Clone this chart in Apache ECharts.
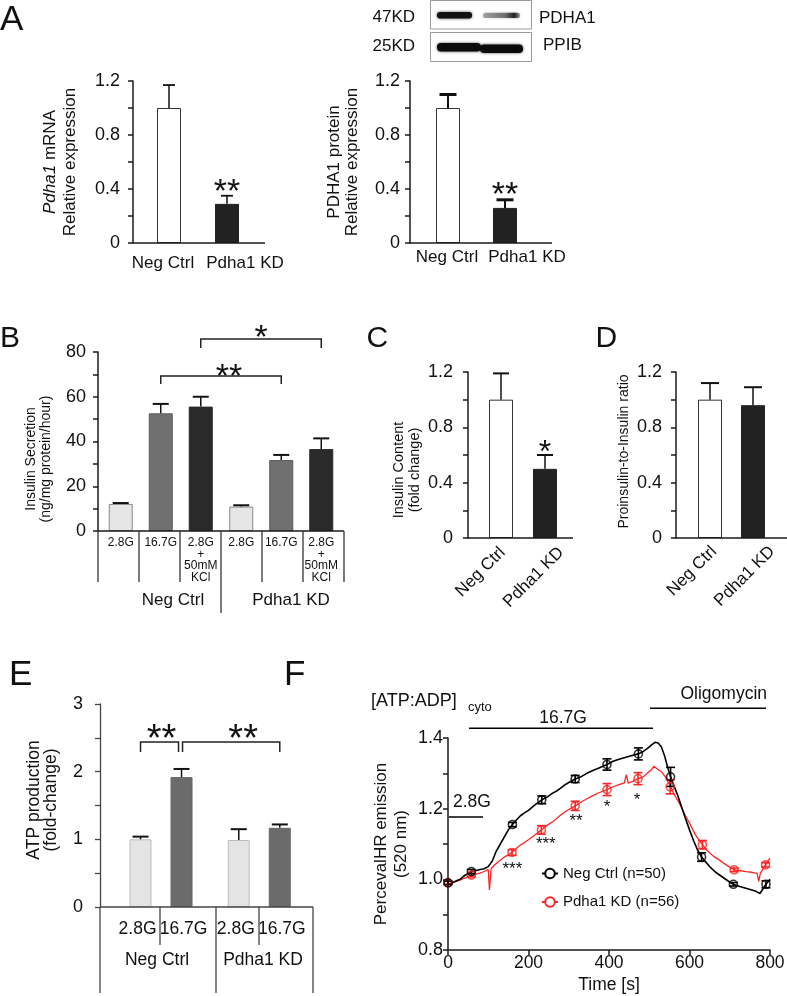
<!DOCTYPE html>
<html><head><meta charset="utf-8">
<script src="https://cdn.jsdelivr.net/npm/echarts@6/dist/echarts.min.js"></script>
<style>html,body{margin:0;padding:0;background:#fff}#c{width:787px;height:996px}</style>
</head><body><div id="c"></div><script>
// ---------------- data ----------------
const groups = ['Neg Ctrl', 'Pdha1 KD'];
// A
const mrnaMean = [1.00, 0.29];
const mrnaErr = [0.17, 0.06];
const mrnaSig = ['', '**'];
const proteinMean = [1.00, 0.26];
const proteinErr = [0.10, 0.06];
const proteinSig = ['', '**'];
// B
const secretionConditions = ['2.8G', '16.7G', '2.8G\n+\n50mM\nKCl'];
const secretion28 = [12.1, 10.9];
const secretion167 = [52.6, 31.7];
const secretionKCl = [55.6, 36.6];
const secretion28Err = [0.4, 0.6];
const secretion167Err = [4.2, 2.3];
const secretionKClErr = [4.4, 4.8];
// C
const contentMean = [1.00, 0.50];
const contentErr = [0.19, 0.10];
const contentSig = ['', '*'];
// D
const ratioMean = [1.00, 0.96];
const ratioErr = [0.12, 0.13];
// E
const atpConditions = ['2.8G', '16.7G'];
const atp28 = [1.00, 0.99];
const atp167 = [1.92, 1.17];
const atp28Err = [0.04, 0.16];
const atp167Err = [0.12, 0.05];
// F  [time s, emission]
const ctrlTrace = [[0,0.985],[10,0.99],[20,0.995],[30,1.0],[40,1.01],[50,1.016],[58,1.022],[70,1.025],[80,1.028],[90,1.03],[100,1.036],[110,1.052],[120,1.08],[130,1.1],[140,1.12],[150,1.14],[160,1.155],[170,1.168],[180,1.18],[190,1.188],[200,1.195],[210,1.205],[220,1.214],[233,1.225],[245,1.232],[260,1.244],[270,1.25],[280,1.258],[290,1.267],[300,1.274],[316,1.284],[330,1.29],[345,1.3],[360,1.308],[375,1.315],[395,1.325],[410,1.334],[425,1.34],[440,1.345],[455,1.35],[473,1.355],[485,1.362],[495,1.37],[505,1.38],[515,1.388],[522,1.386],[530,1.375],[538,1.35],[545,1.32],[553,1.29],[560,1.268],[570,1.24],[580,1.206],[590,1.172],[600,1.14],[610,1.11],[620,1.083],[630,1.063],[640,1.05],[650,1.036],[665,1.02],[680,1.008],[695,0.996],[709,0.986],[725,0.98],[740,0.975],[755,0.97],[765,0.966],[775,0.96],[782,0.972],[790,0.986],[800,1.0]];
const kdTrace = [[0,0.985],[10,0.99],[20,0.994],[30,0.998],[40,1.003],[50,1.007],[58,1.01],[70,1.015],[85,1.02],[95,1.025],[100,1.028],[103,0.97],[107,1.03],[115,1.04],[125,1.05],[140,1.063],[159,1.076],[170,1.088],[180,1.097],[190,1.104],[200,1.112],[215,1.125],[232,1.14],[245,1.152],[260,1.163],[270,1.172],[280,1.182],[295,1.194],[316,1.208],[330,1.218],[345,1.228],[360,1.237],[375,1.245],[395,1.254],[410,1.262],[425,1.268],[438,1.273],[443,1.296],[448,1.272],[460,1.278],[472,1.285],[485,1.29],[495,1.3],[505,1.31],[512,1.32],[520,1.312],[530,1.305],[540,1.29],[552,1.265],[562,1.24],[575,1.215],[590,1.18],[600,1.159],[615,1.125],[632,1.098],[645,1.08],[660,1.065],[680,1.05],[695,1.038],[711,1.027],[725,1.025],[740,1.022],[755,1.02],[768,1.017],[772,0.994],[776,1.017],[789,1.041],[800,1.06]];
// markers [time, mean, sem]
const ctrlMarkers = [[0,0.99,0.005],[58,1.022,0.006],[160,1.155,0.006],[233,1.225,0.011],[316,1.284,0.01],[395,1.325,0.016],[473,1.355,0.017],[553,1.29,0.027],[630,1.063,0.012],[709,0.986,0.005],[790,0.986,0.01]];
const kdMarkers = [[0,0.99,0.004],[58,1.012,0.005],[159,1.076,0.008],[232,1.14,0.012],[316,1.208,0.013],[395,1.254,0.017],[472,1.285,0.017],[552,1.262,0.02],[632,1.098,0.012],[711,1.027,0.005],[789,1.041,0.006]];
const sigF = [[160,1.041,'***'],[243,1.111,'***'],[318,1.176,'**'],[395,1.216,'*'],[470,1.235,'*']];
const seriesNamesF = ['Neg Ctrl (n=50)', 'Pdha1 KD (n=56)'];

// ---------------- styles / helpers ----------------
const FONT = "'Liberation Sans', Arial, Helvetica, sans-serif";
const INK = '#111';
const AX = {color:'#1a1a1a', width:1.5};

function grid(left, top, width, height){ return {left, top, width, height, outerBoundsMode:'none', containLabel:false}; }

function valueY(gi, min, max, interval, o){
  const ax = {
    type:'value', gridIndex:gi, min, max, interval, offset:o.offset||0,
    axisLine:{show:true, lineStyle:o.line||AX},
    axisTick:{show:true, length:5, inside:false, lineStyle:o.line||AX},
    minorTick:{show:true, splitNumber:2, length:5, lineStyle:o.line||AX},
    splitLine:{show:false}, minorSplitLine:{show:false},
    axisLabel:{fontSize:o.labelSize||18, margin:o.margin, color:INK, fontFamily:FONT},
    name:o.name, nameLocation:'middle', nameRotate:90, nameGap:o.nameGap, nameMoveOverlap:false,
    nameTextStyle:{fontSize:o.nameSize, lineHeight:o.nameLH, color:INK, fontFamily:FONT, padding:o.namePad||0}
  };
  if (o.formatter) ax.axisLabel.formatter = o.formatter;
  if (o.nameRich) ax.nameTextStyle.rich = o.nameRich;
  return ax;
}
function hiddenCatX(gi, data){ return {type:'category', gridIndex:gi, data, axisLine:{show:false}, axisTick:{show:false}, axisLabel:{show:false}, splitLine:{show:false}}; }
function labelCatX(gi, data, margin, rotate){ return {type:'category', gridIndex:gi, data, axisLine:{show:false}, axisTick:{show:false}, splitLine:{show:false},
  axisLabel:{show:true, interval:0, fontSize:17, color:INK, fontFamily:FONT, margin, rotate:rotate||0, hideOverlap:false}}; }
function hiddenY(gi){ return {type:'value', gridIndex:gi, show:false, min:0, max:1}; }

const whiteBar = {color:'#ffffff', borderColor:'#333', borderWidth:1};
const blackBar = {color:'#222222', borderColor:'#222', borderWidth:1};
function bar(gi, vals, styles){
  return {type:'bar', xAxisIndex:gi, yAxisIndex:gi, barWidth:24, silent:true, z:2,
    data: vals.map((v,i)=>({value:v, itemStyle:styles[i]}))};
}
function errorBars(gi, means, errs, o){
  return {type:'custom', xAxisIndex:gi, yAxisIndex:gi, z:6, silent:true, clip:false,
    data: means.map((m,i)=>[i, m, m+errs[i]]),
    renderItem(params, api){
      let dx = 0;
      if (o.layout){ const L = api.barLayout(o.layout.opt); dx = L[o.layout.idx].offsetCenter; }
      const p0 = api.coord([api.value(0), api.value(1)]);
      const p1 = api.coord([api.value(0), api.value(2)]);
      const x = p0[0] + dx;
      const ch = [
        {type:'line', shape:{x1:x, y1:p0[1], x2:x, y2:p1[1]}, style:{stroke:'#111', lineWidth:o.stemW||1.5}},
        {type:'line', shape:{x1:x-o.capW/2, y1:p1[1], x2:x+o.capW/2, y2:p1[1]}, style:{stroke:'#111', lineWidth:o.capLW||1.8}}
      ];
      const s = o.sig && o.sig[params.dataIndex];
      if (s) ch.push({type:'text', x:x, y:p1[1]-o.sigGap+0.24*o.sigSize,
        style:{text:s, fill:INK, fontSize:o.sigSize, fontFamily:FONT, align:'center', verticalAlign:'middle'}});
      return {type:'group', children:ch};
    }};
}
function brackets(gi, defs, layoutOpt, fs){
  return {type:'custom', xAxisIndex:gi, yAxisIndex:gi, z:6, silent:true, clip:false,
    data: defs.map(d=>[d.from[1], d.level]),
    renderItem(params, api){
      const d = defs[params.dataIndex];
      const L = api.barLayout(layoutOpt);
      const pa = api.coord([d.from[1], d.level]);
      const pb = api.coord([d.to[1], d.level]);
      const xa = pa[0] + L[d.from[0]].offsetCenter + (d.dxFrom||0);
      const xb = pb[0] + L[d.to[0]].offsetCenter + (d.dxTo||0);
      const y = pa[1];
      return {type:'group', children:[
        {type:'polyline', shape:{points:[[xa,y+d.drop],[xa,y],[xb,y],[xb,y+d.drop]]}, style:{stroke:'#222', lineWidth:1.5, fill:null}},
        {type:'text', x:(xa+xb)/2+(d.labelDx||0), y:y-d.gap+0.24*fs,
          style:{text:d.label, fill:INK, fontSize:fs, fontFamily:FONT, align:'center', verticalAlign:'middle'}}
      ]};
    }};
}

// ---------------- grids ----------------
const grids = [
  grid(140, 81, 116, 162),      // 0 A1 bars
  grid(122, 81, 164, 162),      // 1 A1 labels
  grid(419.5, 81, 114, 162),    // 2 A2 bars
  grid(407, 81, 160, 162),      // 3 A2 labels
  grid(100.5, 352, 241, 179),   // 4 B
  grid(479, 372, 88, 166),      // 5 C bars
  grid(473.25, 372, 117, 166),  // 6 C labels
  grid(688.5, 372, 86, 166),    // 7 D bars
  grid(685, 372, 116, 166),     // 8 D labels
  grid(111.9, 704, 196.5, 203), // 9 E
  grid(448, 738, 322, 212)      // 10 F
];

const layoutB = {count:3, barWidth:24, barGap:'66.7%'};
const layoutE = {count:2, barWidth:22, barGap:'86.4%'};

const xAxes = [
  hiddenCatX(0, groups),
  labelCatX(1, groups, 11.5),
  hiddenCatX(2, groups),
  labelCatX(3, groups, 5.5),
  {type:'category', gridIndex:4, data:groups, axisLine:{show:false}, axisTick:{show:false}, splitLine:{show:false},
    axisLabel:{show:true, interval:0, margin:60.5, color:INK, fontSize:17, fontFamily:FONT,
      formatter:(v,i)=>'{g'+i+'|'+v+'}',
      rich:{g0:{fontSize:17, fontFamily:FONT, color:INK, padding:[0,0,0,24.5]}, g1:{fontSize:17, fontFamily:FONT, color:INK, padding:[0,0,0,19.5]}}}},
  hiddenCatX(5, groups),
  labelCatX(6, groups, 12, 45),
  hiddenCatX(7, groups),
  labelCatX(8, groups, 11, 45),
  {type:'category', gridIndex:9, data:groups, axisLine:{show:false}, axisTick:{show:false}, splitLine:{show:false},
    axisLabel:{show:true, interval:0, margin:44, color:INK, fontSize:17.5, fontFamily:FONT,
      formatter:(v,i)=>'{g'+i+'|'+v+'}',
      rich:{g0:{fontSize:17.5, fontFamily:FONT, color:INK, padding:[0,8,0,0]}, g1:{fontSize:17.5, fontFamily:FONT, color:INK, padding:[0,0,0,7.5]}}}},
  {type:'value', gridIndex:10, min:0, max:800, interval:200,
    axisLine:{show:true, lineStyle:AX}, axisTick:{show:true, length:5, lineStyle:AX}, splitLine:{show:false},
    axisLabel:{fontSize:17.5, margin:4, color:INK, fontFamily:FONT},
    name:'Time [s]', nameLocation:'middle', nameGap:26, nameMoveOverlap:false,
    nameTextStyle:{fontSize:17.5, color:INK, fontFamily:FONT}}
];

const yAxes = [
  valueY(0, 0, 1.2, 0.4, {offset:7, margin:13, name:'{i|Pdha1} mRNA\nRelative expression', nameGap:53, nameSize:17, nameLH:20,
    nameRich:{i:{fontStyle:'italic', fontSize:17, lineHeight:20, fontFamily:FONT, color:INK}}}),
  hiddenY(1),
  valueY(2, 0, 1.2, 0.4, {offset:9.5, margin:10, name:'PDHA1 protein\nRelative expression', nameGap:48.5, nameSize:17, nameLH:18}),
  hiddenY(3),
  valueY(4, 0, 80, 20, {offset:2.5, margin:12, name:'Insulin Secretion\n(ng/mg protein/hour)', nameGap:44.5, nameSize:14, nameLH:15, namePad:[0,35,0,0]}),
  valueY(5, 0, 1.2, 0.4, {offset:11, margin:15, name:'Insulin Content\n(fold change)', nameGap:45, nameSize:14.5, nameLH:16, namePad:[0,30,0,0]}),
  hiddenY(6),
  valueY(7, 0, 1.2, 0.4, {offset:12.5, margin:14, name:'Proinsulin-to-Insulin ratio', nameGap:44.5, nameSize:14, nameLH:15, namePad:[0,0,0,7]}),
  hiddenY(8),
  valueY(9, 0, 3, 1, {offset:11.9, margin:17, line:{color:'#444', width:1.3}, name:'ATP production\n(fold-change)', nameGap:40.5, nameSize:17.5, nameLH:17, namePad:[0,0,0,11]}),
  valueY(10, 0.8, 1.4, 0.2, {margin:5, formatter:v=>v.toFixed(1), name:'PercevalHR emission\n(520 nm)', nameGap:36, nameSize:17, nameLH:20.5})
];

// ---------------- series ----------------
const series = [];
// A
series.push(bar(0, mrnaMean, [whiteBar, blackBar]));
series.push(errorBars(0, mrnaMean, mrnaErr, {capW:12, sig:mrnaSig, sigGap:11, sigSize:34}));
series.push(bar(2, proteinMean, [whiteBar, blackBar]));
series.push(errorBars(2, proteinMean, proteinErr, {capW:17, capLW:3, stemW:2, sig:proteinSig, sigGap:12, sigSize:34}));
// B
const bStyles = [
  {color:'#e6e6e6', borderColor:'#8a8a8a', borderWidth:1},
  {color:'#707070', borderColor:'#5a5a5a', borderWidth:1},
  {color:'#2a2a2a', borderColor:'#2a2a2a', borderWidth:1}
];
[secretion28, secretion167, secretionKCl].forEach((vals, k)=>{
  series.push({type:'bar', name:secretionConditions[k], xAxisIndex:4, yAxisIndex:4, data:vals, barWidth:24, barGap:'66.7%',
    silent:true, z:2, itemStyle:bStyles[k],
    label:{show:true, position:'bottom', distance:6, formatter:secretionConditions[k], fontSize:12, lineHeight:11.5, color:INK, fontFamily:FONT}});
});
[[secretion28, secretion28Err],[secretion167, secretion167Err],[secretionKCl, secretionKClErr]].forEach((p,k)=>{
  series.push(errorBars(4, p[0], p[1], {capW:16, capLW:2, stemW:1.5, layout:{opt:layoutB, idx:k}}));
});
series.push(brackets(4, [
  {from:[1,0], to:[1,1], level:69.3, drop:8, gap:6, label:'**', labelDx:8},
  {from:[2,0], to:[2,1], level:85.8, drop:9, gap:9, label:'*'}
], layoutB, 34));
// C
series.push(bar(5, contentMean, [whiteBar, blackBar]));
series.push(errorBars(5, contentMean, contentErr, {capW:16, capLW:2, sig:contentSig, sigGap:10, sigSize:32}));
// D
series.push(bar(7, ratioMean, [whiteBar, blackBar]));
series.push(errorBars(7, ratioMean, ratioErr, {capW:18, capLW:2}));
// E
const eStyles = [{color:'#e4e4e4', borderColor:'#bdbdbd', borderWidth:1}, {color:'#6b6b6b', borderColor:'#666', borderWidth:1}];
[atp28, atp167].forEach((vals,k)=>{
  series.push({type:'bar', name:atpConditions[k], xAxisIndex:9, yAxisIndex:9, data:vals, barWidth:22, barGap:'86.4%',
    silent:true, z:2, itemStyle:eStyles[k],
    label:{show:true, position:'bottom', distance:13, offset:[k===0?-3:2,0], formatter:atpConditions[k], fontSize:17.5, color:INK, fontFamily:FONT}});
});
[[atp28, atp28Err],[atp167, atp167Err]].forEach((p,k)=>{
  series.push(errorBars(9, p[0], p[1], {capW:16, capLW:2, stemW:1.5, layout:{opt:layoutE, idx:k}}));
});
series.push(brackets(9, [
  {from:[0,0], to:[1,0], level:2.438, drop:10, gap:10.3, label:'**', dxTo:-3, labelDx:2},
  {from:[1,0], to:[1,1], level:2.438, drop:10, gap:10.3, label:'**', dxFrom:1, labelDx:12}
], layoutE, 38));
// F
const RED = '#ff2424';
function fErr(markers, color){
  return {type:'custom', xAxisIndex:10, yAxisIndex:10, z:7, silent:true, clip:false,
    data: markers.map(m=>[m[0], m[1], m[2]]),
    renderItem(params, api){
      const t = api.value(0), v = api.value(1), e = api.value(2);
      const a = api.coord([t, v+e]), b = api.coord([t, v-e]);
      const w = 4.5, st = {stroke:color, lineWidth:1.6};
      return {type:'group', children:[
        {type:'line', shape:{x1:a[0], y1:a[1], x2:b[0], y2:b[1]}, style:st},
        {type:'line', shape:{x1:a[0]-w, y1:a[1], x2:a[0]+w, y2:a[1]}, style:st},
        {type:'line', shape:{x1:b[0]-w, y1:b[1], x2:b[0]+w, y2:b[1]}, style:st}
      ]};
    }};
}
series.push({type:'line', name:seriesNamesF[1], xAxisIndex:10, yAxisIndex:10, data:kdTrace, symbol:'emptyCircle', showSymbol:false,
  lineStyle:{color:RED, width:1.3}, itemStyle:{color:RED}, z:3, silent:true});
series.push({type:'line', name:seriesNamesF[0], xAxisIndex:10, yAxisIndex:10, data:ctrlTrace, symbol:'emptyCircle', showSymbol:false,
  lineStyle:{color:'#000', width:1.6}, itemStyle:{color:'#000'}, z:4, silent:true});
series.push(fErr(kdMarkers, RED));
series.push({type:'scatter', xAxisIndex:10, yAxisIndex:10, data:kdMarkers.map(m=>[m[0], m[1]]), symbol:'circle', symbolSize:8,
  itemStyle:{color:'rgba(255,255,255,0)', borderColor:RED, borderWidth:1.6}, z:8, silent:true});
series.push(fErr(ctrlMarkers, '#000'));
series.push({type:'scatter', xAxisIndex:10, yAxisIndex:10, data:ctrlMarkers.map(m=>[m[0], m[1]]), symbol:'circle', symbolSize:8,
  itemStyle:{color:'rgba(255,255,255,0)', borderColor:'#000', borderWidth:1.6}, z:9, silent:true});
series.push({type:'custom', xAxisIndex:10, yAxisIndex:10, z:9, silent:true, clip:false,
  data: sigF.map(s=>[s[0], s[1]]),
  renderItem(params, api){
    const p = api.coord([api.value(0), api.value(1)]);
    return {type:'text', x:p[0], y:p[1]+0.24*17, style:{text:sigF[params.dataIndex][2], fill:INK, fontSize:17, fontFamily:FONT, align:'center', verticalAlign:'middle'}};
  }});

// ---------------- static graphics ----------------
const G = [];
function txt(x, y, t, fs, align, extra){ G.push({type:'text', x, y, silent:true, z:10,
  style:Object.assign({text:t, fill:INK, fontSize:fs, fontFamily:FONT, align:align||'left', verticalAlign:'middle'}, extra||{})}); }
function ln(x1, y1, x2, y2, w, c){ G.push({type:'line', silent:true, z:10, shape:{x1,y1,x2,y2}, style:{stroke:c||'#1a1a1a', lineWidth:w||1.5}}); }
function rect(x, y, w, h, style, r){ G.push({type:'rect', silent:true, z:10, shape:{x, y, width:w, height:h, r:r||0}, style}); }

// panel letters
txt(0, 20.5, 'A', 35); txt(0, 339, 'B', 30); txt(366.5, 339, 'C', 30); txt(595.5, 339, 'D', 30);
txt(9, 675.5, 'E', 35); txt(284, 675.5, 'F', 35);

// western blot
rect(430.5, 0.5, 101, 28.5, {fill:'#fff', stroke:'#9a9a9a', lineWidth:1});
rect(430.5, 32.5, 101, 29, {fill:'#fff', stroke:'#9a9a9a', lineWidth:1});
rect(437, 12, 35, 6.5, {fill:'#111', shadowBlur:3, shadowColor:'rgba(0,0,0,0.7)'}, 3);
rect(483, 12.8, 37, 5.2, {fill:new echarts.graphic.LinearGradient(0,0,1,0,[
  {offset:0, color:'rgba(40,40,40,0.35)'},{offset:0.6, color:'rgba(30,30,30,0.55)'},{offset:0.85, color:'rgba(10,10,10,0.85)'},{offset:1, color:'rgba(40,40,40,0.4)'}]),
  shadowBlur:3, shadowColor:'rgba(0,0,0,0.4)'}, 2.5);
rect(437, 43, 44, 8.5, {fill:'#0a0a0a', shadowBlur:3, shadowColor:'rgba(0,0,0,0.7)'}, 4);
rect(480, 44.5, 43, 8.5, {fill:'#0a0a0a', shadowBlur:3, shadowColor:'rgba(0,0,0,0.7)'}, 4);
txt(415, 17.5, '47KD', 17, 'right'); txt(415, 46, '25KD', 17, 'right');
txt(539, 18.5, 'PDHA1', 17); txt(543, 45.5, 'PPIB', 17);

// baselines
ln(133, 243, 265, 243); ln(410, 243, 552, 243); ln(98, 531, 344, 531);
ln(468, 538, 573, 538); ln(676, 538, 787, 538); ln(100, 907, 313, 907, 1.3, '#444');
// table lines B
[98, 139, 180, 262, 303, 344].forEach(x=>ln(x, 531, x, 582, 1.3, '#333'));
ln(221, 531, 221, 613, 1.3, '#333');
// table lines E
[100, 216, 313].forEach(x=>ln(x, 907, x, 993, 1.3, '#444'));
[160, 259].forEach(x=>ln(x, 907, x, 945, 1.3, '#444'));

// F annotations
txt(371, 701, '[ATP:ADP]', 18); txt(468, 707, 'cyto', 13);
txt(563, 718, '16.7G', 17.5, 'center'); ln(469, 728.3, 653, 728.3, 1.6, '#000');
txt(767, 694, 'Oligomycin', 17.5, 'right'); ln(650, 708.3, 766, 708.3, 1.6, '#000');
txt(453, 802.5, '2.8G', 17.5); ln(449, 817, 483, 817, 1.6, '#000');

const chart = echarts.init(document.getElementById('c'), null, {renderer:'canvas'});
chart.setOption({
  animation:false,
  backgroundColor:'#fff',
  textStyle:{fontFamily:FONT, color:INK},
  grid:grids, xAxis:xAxes, yAxis:yAxes, series,
  legend:{show:true, orient:'vertical', left:536, top:861, itemWidth:16, itemHeight:12, itemGap:13.5,
    data:seriesNamesF, textStyle:{fontSize:15, color:INK, fontFamily:FONT}, selectedMode:false},
  graphic:G
});
</script></body></html>
